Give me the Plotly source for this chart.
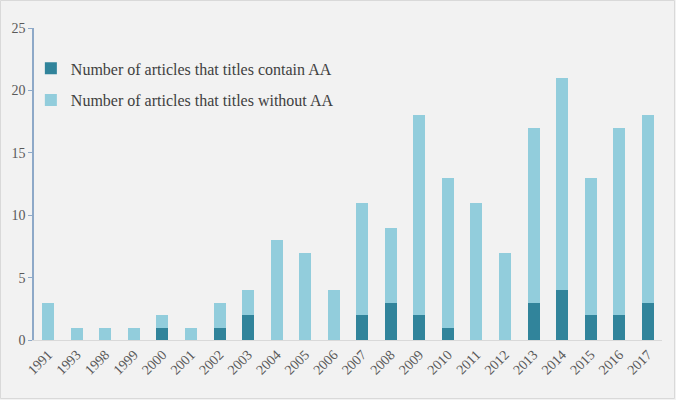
import plotly.graph_objs as go

years = ["1991", "1993", "1998", "1999", "2000", "2001", "2002", "2003", "2004", "2005", "2006",
         "2007", "2008", "2009", "2010", "2011", "2012", "2013", "2014", "2015", "2016", "2017"]
totals = [3, 1, 1, 1, 2, 1, 3, 4, 8, 7, 4, 11, 9, 18, 13, 11, 7, 17, 21, 13, 17, 18]
with_aa = [0, 0, 0, 0, 1, 0, 1, 2, 0, 0, 0, 2, 3, 2, 1, 0, 0, 3, 4, 2, 2, 3]
without_aa = [t - w for t, w in zip(totals, with_aa)]

names = ["Number of articles that titles contain AA",
         "Number of articles that titles without AA"]
y_ticks = [0, 5, 10, 15, 20, 25]

W, H = 676, 400
margin = dict(l=34, r=14, t=28, b=60)
pw = W - margin["l"] - margin["r"]
ph = H - margin["t"] - margin["b"]

fig = go.Figure()
fig.add_trace(go.Bar(name=names[0], x=years, y=with_aa, marker_color="#31849b",
                     marker_line_width=0, legendgroup="a"))
fig.add_trace(go.Bar(name=names[1], x=years, y=without_aa, marker_color="#92cddc",
                     marker_line_width=0, legendgroup="b"))

fig.update_layout(
    width=W, height=H, margin=margin,
    barmode="stack", bargap=0.58,
    paper_bgcolor="#f2f2f2", plot_bgcolor="#f2f2f2",
    font=dict(family="Liberation Serif, Times New Roman, serif", size=14, color="#595959"),
    legend=dict(x=-0.005, y=0.925, xanchor="left", yanchor="top",
                traceorder="grouped", tracegroupgap=8,
                bgcolor="rgba(0,0,0,0)",
                font=dict(size=16, color="#404040")),
    shapes=[dict(type="rect", xref="paper", yref="paper",
                 x0=-margin["l"] / pw + 0.5 / pw, x1=1 + (margin["r"] - 1.5) / pw,
                 y0=-(margin["b"] - 1.5) / ph, y1=1 + (margin["t"] - 0.5) / ph,
                 line=dict(color="#d9d9d9", width=1), layer="below")],
)
fig.update_xaxes(type="category", tickangle=-45, showgrid=False, automargin=False,
                 showline=True, linecolor="#d9d9d9", linewidth=1,
                 ticks="", tickfont=dict(size=14, color="#595959"),
                 range=[-0.5, len(years) - 0.5])
fig.update_yaxes(range=[0, 25], tickvals=y_ticks, showgrid=False, zeroline=False,
                 automargin=False,
                 showline=True, linecolor="#8ea9c8", linewidth=1.5,
                 ticks="outside", ticklen=4, tickcolor="#8ea9c8",
                 tickfont=dict(size=14, color="#595959"))

# page body has a default 8px margin; drop it so the figure fills the window
fig.write_html("out.html", config={"displayModeBar": False},
               post_script="document.body.style.margin='0';")
